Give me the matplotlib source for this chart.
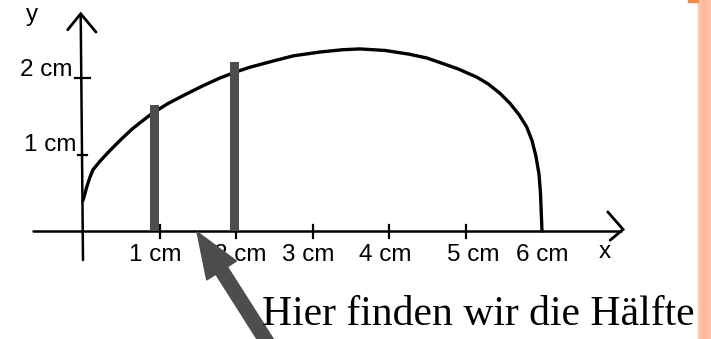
import numpy as np
from matplotlib import pyplot as plt
from matplotlib.axes import Axes
from matplotlib.figure import Figure
from matplotlib.patches import Rectangle

# hand-drawn curve, in cm
curve_x = [0.0, 0.02, 0.05, 0.09, 0.13, 0.22, 0.35, 0.5, 0.65, 0.88, 1.1, 1.31,
           1.55, 1.79, 2.0, 2.18, 2.44, 2.75, 3.1, 3.4, 3.62, 3.95, 4.27, 4.5,
           4.7, 4.9, 5.15, 5.3, 5.45, 5.58, 5.7, 5.8, 5.87, 5.92, 5.96, 5.98,
           5.99, 6.0]
curve_y = [0.40, 0.47, 0.58, 0.70, 0.80, 0.91, 1.05, 1.20, 1.34, 1.52, 1.66, 1.77,
           1.89, 2.0, 2.08, 2.14, 2.21, 2.29, 2.34, 2.37, 2.38, 2.36, 2.31, 2.26,
           2.19, 2.12, 2.01, 1.92, 1.80, 1.67, 1.52, 1.36, 1.18, 0.98, 0.75, 0.5,
           0.25, 0.0]

# the two marked heights
bar_x = [0.93, 1.98]
bar_h = [1.65, 2.21]

x_ticks = [1, 2, 3, 4, 5]
x_tick_labels = ["1 cm", "2 cm", "3 cm", "4 cm", "5 cm", "6 cm"]
x_label_pos = [0.94, 2.05, 2.95, 3.95, 5.1, 6.0]
y_ticks = [1, 2]
y_tick_labels = ["1 cm", "2 cm"]

caption = "Hier finden wir die Hälfte"

INK = "black"
GRAY = "#4d4d4d"
SANS = "Liberation Sans"
LABEL_SIZE = 17.5


def draw_axes(ax: Axes):
    ax.plot([-0.65, 7.03], [0, 0], color=INK, lw=1.8, solid_capstyle="round")
    ax.plot([0.0, -0.03], [-0.38, 2.82], color=INK, lw=1.8, solid_capstyle="round")

    # open arrow heads
    ax.plot([-0.2, -0.03, 0.17], [2.63, 2.84, 2.6], color=INK, lw=2.0,
            solid_joinstyle="miter", solid_capstyle="round")
    ax.plot([6.86, 7.06, 6.89], [0.25, 0.02, -0.12], color=INK, lw=2.0,
            solid_joinstyle="miter", solid_capstyle="round")

    for t in x_ticks:
        ax.plot([t, t], [-0.09, 0.08], color=INK, lw=1.6)
    ax.plot([-0.1, 0.09], [y_ticks[1], y_ticks[1]], color=INK, lw=1.6)
    ax.plot([-0.07, 0.05], [y_ticks[0], y_ticks[0]], color=INK, lw=1.6)

    for pos, lab in zip(x_label_pos, x_tick_labels):
        ax.text(pos, -0.32, lab, ha="center", va="center", fontsize=LABEL_SIZE, family=SANS)
    ax.text(6.82, -0.28, "x", ha="center", va="center", fontsize=LABEL_SIZE, family=SANS)

    ax.text(-0.14, 2.1, y_tick_labels[1], ha="right", va="center",
            fontsize=LABEL_SIZE, family=SANS)
    ax.text(-0.08, 1.12, y_tick_labels[0], ha="right", va="center",
            fontsize=LABEL_SIZE, family=SANS)
    ax.text(-0.67, 2.82, "y", ha="center", va="center", fontsize=LABEL_SIZE, family=SANS)


def create_plot() -> Figure:
    fig = plt.figure(figsize=(7.11, 3.39), dpi=100)
    ax = fig.add_axes([0, 0, 1, 1])

    # 1 cm on paper is about 76.5 px here
    scale = 76.5
    ax.set_xlim(-83 / scale, (711 - 83) / scale)
    ax.set_ylim((231 - 339) / scale, 231 / scale)
    ax.axis("off")

    draw_axes(ax)

    ax.plot(curve_x, curve_y, color=INK, lw=2.4, solid_capstyle="round",
            solid_joinstyle="round")

    ax.bar(bar_x, bar_h, width=0.12, color=GRAY, zorder=3)

    # pointer to the half-way mark
    tip = np.array([1.49, -0.01])
    tail = np.array([2.5, -1.6])
    ax.arrow(tail[0], tail[1], *(tip - tail), width=0.18, head_width=0.46,
             head_length=0.6, length_includes_head=True, color=GRAY, zorder=4)

    ax.text(2.34, -1.23, caption, ha="left", va="baseline", fontsize=30,
            family="Liberation Serif", zorder=5)

    # slide border on the right
    fig.patches.append(Rectangle((698 / 711, 0), 13 / 711, 1, transform=fig.transFigure,
                                 color="#fec4ad", zorder=0))
    fig.patches.append(Rectangle((702 / 711, 0), 4 / 711, 1, transform=fig.transFigure,
                                 color="#ffb898", zorder=0))
    fig.patches.append(Rectangle((688 / 711, 1 - 1.5 / 339), 10 / 711, 1.5 / 339,
                                 transform=fig.transFigure, color="#f58a40", zorder=0))
    return fig


fig = create_plot()
fig.savefig("out.png", dpi=100)
